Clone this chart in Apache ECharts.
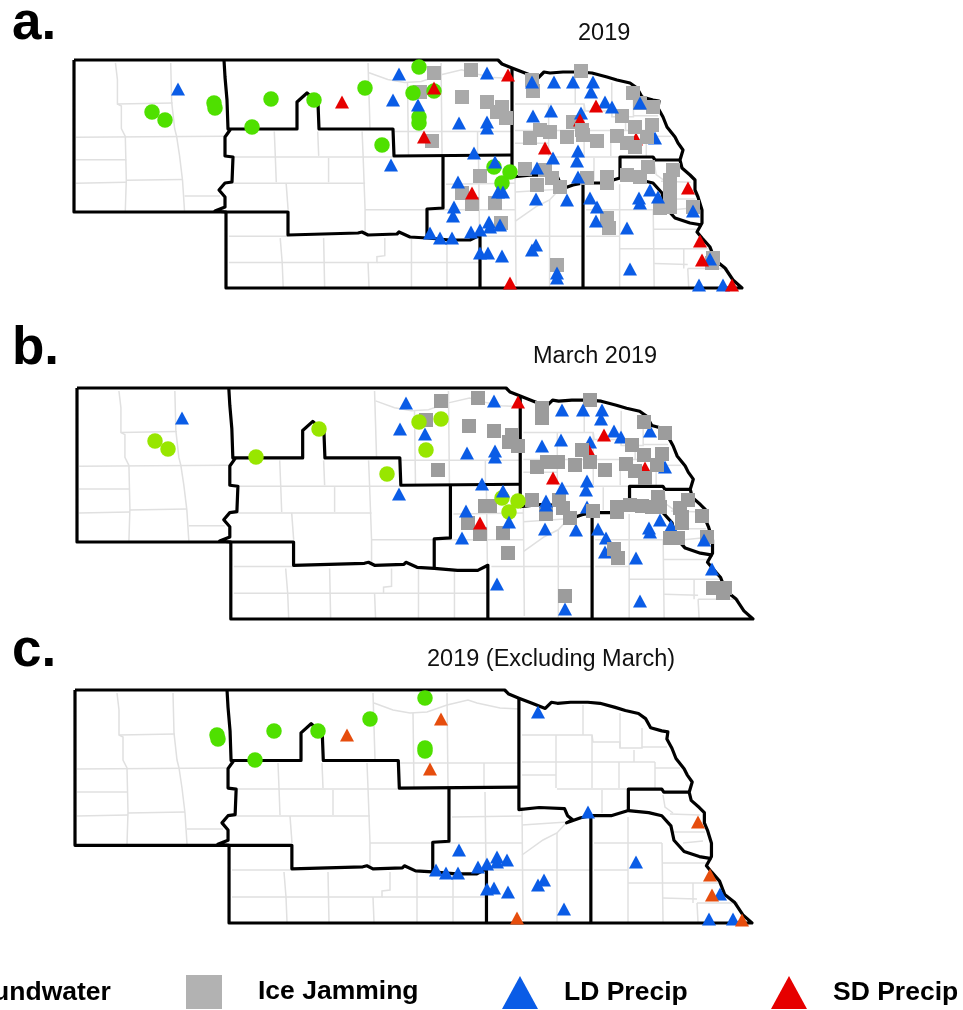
<!DOCTYPE html>
<html>
<head>
<meta charset="utf-8">
<title>Nebraska flood sources 2019</title>
<script src="https://cdn.jsdelivr.net/npm/echarts@6/dist/echarts.min.js"></script>
<style>
html,body{margin:0;padding:0;background:#fff;}
#main{width:963px;height:1010px;}
</style>
</head>
<body>
<div id="main"></div>
<script>
// zone boundaries
var zoneLines = [
	[[74,60],[498,60],[502,64],[512,68],[525,73],[538,78],[544,72],[550,73],[563,72],[580,72],[592,73],[607,77],[617,80],[630,83],[637,88],[642,97],[653,100],[659,101],[658,108],[663,117],[667,127],[675,137],[678,143],[683,150],[680,160],[682,168],[690,175],[695,180],[695,190],[698,197],[702,210],[702,223],[697,232],[702,238],[710,247],[715,260],[725,268],[733,280],[742,288],[226,288],[226,212],[74,212],[74,60]],
	[[224,60],[225,77],[227,100],[228,129],[297,129],[297,102],[307,93],[318,103],[319,129],[393,129],[394,156],[512,155]],
	[[228,129],[230,130],[225,137],[225,156],[233,157],[232,182],[225,183],[219,190],[225,197],[225,207],[215,211],[226,212]],
	[[226,212],[288,212],[288,235],[358,233],[362,232],[368,235],[397,234],[399,232],[410,237],[427,238],[450,240],[470,240],[480,235],[480,288]],
	[[443,155],[443,208],[427,209],[427,238]],
	[[512,68],[512,177],[532,175],[557,176],[560,183],[565,187],[559,190],[573,185],[583,183],[603,183],[620,178],[640,180],[653,183],[662,193],[665,207],[675,218],[690,223],[702,225]],
	[[583,183],[583,288]],
	[[620,178],[620,157],[653,157],[655,160],[680,160]]
];
// county lines
var countyLines = [
	[[117,693],[119,710],[119,735],[123,737],[123,760],[127,768],[128,812],[127,844]],
	[[119,735],[175,734]],
	[[173,693],[174,733],[177,760],[179,768],[182,788],[185,813],[187,844]],
	[[77,769],[227,768]],
	[[77,792],[128,792]],
	[[77,816],[128,815]],
	[[128,813],[185,812]],
	[[187,829],[223,829]],
	[[230,789],[398,789]],
	[[278,763],[279,788],[280,815]],
	[[322,763],[323,788]],
	[[367,763],[368,788],[370,843],[370,867]],
	[[333,790],[333,815]],
	[[230,816],[370,816]],
	[[290,816],[292,843]],
	[[370,843],[452,843]],
	[[373,693],[375,760]],
	[[374,703],[393,710],[410,713],[427,712],[447,705],[468,700],[477,703],[500,708],[520,709]],
	[[232,870],[292,870]],
	[[284,872],[286,897],[287,922]],
	[[232,897],[382,897],[382,891],[390,890],[390,872]],
	[[328,872],[329,922]],
	[[373,897],[374,922]],
	[[382,897],[487,897]],
	[[400,763],[520,763]],
	[[413,713],[414,787]],
	[[447,693],[448,787]],
	[[484,763],[484,787]],
	[[485,792],[486,870]],
	[[452,817],[522,816]],
	[[452,843],[522,843]],
	[[522,807],[523,920]],
	[[522,825],[567,822]],
	[[522,855],[543,840],[557,833],[567,822]],
	[[557,833],[557,922]],
	[[490,870],[592,870]],
	[[453,873],[453,922]],
	[[417,873],[417,922]],
	[[583,705],[583,735]],
	[[522,735],[592,735],[593,742],[620,742],[620,748],[642,748],[642,728]],
	[[620,713],[620,748]],
	[[642,747],[667,747]],
	[[634,750],[634,762]],
	[[522,762],[655,762]],
	[[655,768],[680,768]],
	[[655,762],[655,788]],
	[[556,735],[556,788]],
	[[522,775],[556,775]],
	[[592,735],[592,788]],
	[[619,762],[619,788]],
	[[557,789],[627,789]],
	[[602,790],[602,813]],
	[[663,795],[665,807],[673,813]],
	[[670,814],[700,815]],
	[[672,832],[705,832]],
	[[683,843],[703,841]],
	[[628,817],[628,922]],
	[[594,843],[662,843]],
	[[662,843],[663,922]],
	[[662,863],[707,863]],
	[[594,870],[628,870]],
	[[628,883],[720,883]],
	[[693,883],[693,903]],
	[[663,898],[697,899]],
	[[697,903],[738,903]],
	[[697,903],[698,922]]
];

// panel a
var groundA = [[152,112],[165,120],[214,103],[215,108],[271,99],[314,100],[252,127],[365,88],[382,145],[419,67],[413,93],[434,91],[419,117],[419,123],[494,167],[510,172],[502,183]];
var iceA = [[434,73],[471,70],[420,92],[462,97],[487,102],[502,107],[497,112],[506,118],[432,141],[533,91],[532,80],[581,71],[633,93],[640,103],[653,107],[622,116],[573,122],[540,130],[550,132],[530,138],[567,137],[525,169],[480,176],[462,193],[472,204],[495,203],[501,223],[537,185],[545,170],[552,178],[560,187],[587,178],[607,177],[607,183],[627,175],[648,167],[640,177],[673,170],[670,180],[670,193],[660,208],[670,207],[693,207],[607,218],[609,228],[557,265],[713,258],[712,263]];
var iceTopA = [[652,125],[635,127],[582,130],[583,135],[597,141],[617,136],[627,143],[635,147],[647,137]];
var ldA = [[178,89],[399,74],[393,100],[391,165],[532,82],[554,82],[573,82],[593,82],[591,92],[418,105],[487,73],[459,123],[487,122],[487,128],[533,116],[551,111],[581,113],[605,102],[612,107],[640,103],[655,138],[553,158],[578,151],[577,161],[474,153],[495,162],[537,168],[578,177],[458,182],[498,192],[503,192],[536,199],[567,200],[590,198],[597,207],[596,221],[627,228],[639,198],[640,203],[650,190],[658,197],[693,211],[454,207],[453,216],[430,233],[440,238],[452,238],[471,232],[480,230],[489,222],[490,227],[500,225],[480,253],[488,253],[502,256],[532,250],[536,245],[557,273],[557,278],[630,269],[710,259],[699,285],[723,285]];
var sdA = [[342,102],[434,88],[424,137],[508,75],[596,106],[580,120],[636,139],[545,148],[472,193],[688,188],[700,241],[702,260],[510,283],[732,285]];

// panel b
var groundB = [[155,441],[168,449],[256,457],[319,429],[387,474],[419,422],[441,419],[426,450],[502,498],[518,501],[509,512]];
var iceB = [[426,420],[441,401],[478,398],[469,426],[494,431],[438,470],[542,408],[542,418],[590,400],[532,500],[485,506],[490,506],[468,523],[480,534],[503,533],[508,553],[546,514],[559,500],[563,508],[702,516],[707,537],[725,588],[723,593],[713,588]];
var iceTopB = [[512,435],[509,442],[518,446],[644,422],[665,433],[632,445],[662,454],[644,455],[582,450],[590,462],[547,462],[558,462],[537,467],[575,465],[605,470],[626,464],[635,471],[645,478],[657,465],[570,518],[593,511],[617,507],[617,512],[630,505],[642,506],[652,507],[658,497],[660,507],[688,500],[680,508],[682,517],[682,523],[670,538],[678,538],[614,549],[618,558],[565,596]];
var ldB = [[182,418],[406,403],[400,429],[399,494],[562,410],[583,410],[602,410],[601,419],[494,401],[425,434],[467,453],[495,451],[495,457],[542,446],[561,440],[590,442],[614,431],[621,437],[650,431],[665,467],[562,488],[587,481],[586,490],[482,484],[503,491],[546,501],[546,505],[587,507],[466,511],[462,538],[509,522],[545,529],[576,530],[598,529],[606,538],[605,552],[636,558],[649,528],[650,532],[660,520],[671,526],[704,540],[712,569],[497,584],[640,601],[565,609]];
var sdB = [[518,402],[604,435],[553,478],[480,523],[588,449],[645,468]];

// panel c
var groundC = [[217,735],[218,739],[274,731],[318,731],[255,760],[370,719],[425,698],[425,748],[425,751]];
var ldC = [[538,712],[588,812],[459,850],[436,870],[446,873],[458,873],[478,867],[487,864],[497,857],[497,862],[507,860],[487,889],[494,888],[508,892],[538,885],[544,880],[564,909],[636,862],[720,894],[709,919],[733,919]];
var sdC = [[347,735],[441,719],[430,769],[698,822],[710,875],[712,895],[517,918],[742,920]];

var legendNames = ['Groundwater','Ice Jamming','LD Precip','SD Precip'];

var frameA = [74,60,668,228];
var frameB = [77,388,676,231];
var frameC = [75,690,677,233];

// move outlines read in one panel onto another
function fit(lines, from, to) {
	return lines.map(function(line) {
		return {
			coords: line.map(function(p) {
				return [
					to[0] + (p[0] - from[0]) * to[2] / from[2],
					to[1] + (p[1] - from[1]) * to[3] / from[3]
				];
			})
		};
	});
}

var grids = [], xAxes = [], yAxes = [], series = [];

function addPanel(frame, ground, groundColor, ice, iceTop, iceColor, ld, sd, sdColor) {
	var i = grids.length;
	grids.push({left: frame[0], top: frame[1], width: frame[2], height: frame[3]});
	xAxes.push({type: 'value', gridIndex: i, show: false, min: frame[0], max: frame[0] + frame[2]});
	yAxes.push({type: 'value', gridIndex: i, show: false, inverse: true, min: frame[1], max: frame[1] + frame[3]});
	series.push({
		type: 'lines', coordinateSystem: 'cartesian2d', polyline: true, clip: false, silent: true,
		xAxisIndex: i, yAxisIndex: i, z: 1,
		lineStyle: {color: '#e0e0e0', width: 1.5, opacity: 1},
		data: fit(countyLines, frameC, frame)
	});
	series.push({
		type: 'lines', coordinateSystem: 'cartesian2d', polyline: true, clip: false, silent: true,
		xAxisIndex: i, yAxisIndex: i, z: 2,
		lineStyle: {color: '#000', width: 3.2, opacity: 1, join: 'round'},
		data: fit(zoneLines, frameA, frame)
	});
	function marks(name, data, symbol, size, color, z) {
		series.push({
			name: name, type: 'scatter', xAxisIndex: i, yAxisIndex: i, clip: false, silent: true,
			symbol: symbol, symbolSize: size, z: z,
			itemStyle: {color: color, opacity: 1},
			data: data
		});
	}
	marks(legendNames[1], ice, 'rect', [14, 14], iceColor, 3);
	marks(legendNames[0], ground, 'circle', 15.5, groundColor, 4);
	marks(legendNames[2], ld, 'triangle', [14, 13], '#0a5ce6', 5);
	marks(legendNames[3], sd, 'triangle', [14, 13], sdColor, 6);
	marks(legendNames[1], iceTop, 'rect', [14, 14], iceColor, 7);
}

addPanel(frameA, groundA, '#4fe000', iceA, iceTopA, '#a9a9a9', ldA, sdA, '#e60000');
addPanel(frameB, groundB, '#98e600', iceB, iceTopB, '#9c9c9c', ldB, sdB, '#e60000');
addPanel(frameC, groundC, '#4fe000', [], [], '#a9a9a9', ldC, sdC, '#e64d0d');

function panelTitle(text, left, top) {
	return {text: text, left: left, top: top, padding: 0, textStyle: {fontFamily: 'Liberation Sans', fontWeight: 'bold', fontSize: 53, color: '#000'}};
}
function yearTitle(text, left, top) {
	return {text: text, left: left, top: top, padding: 0, textStyle: {fontFamily: 'Liberation Sans', fontWeight: 'normal', fontSize: 23.5, color: '#111'}};
}
function legendItem(index, icon, color, left, width, height, top, gap) {
	return {
		left: left, top: top, padding: 0, orient: 'horizontal', selectedMode: false,
		itemWidth: width, itemHeight: height,
		data: [{name: legendNames[index], icon: icon, itemStyle: {color: color}}],
		textStyle: {fontFamily: 'Liberation Sans', fontWeight: 'bold', fontSize: 26.5, color: '#000', padding: [9, 0, 0, gap]}
	};
}

var option = {
	animation: false,
	backgroundColor: '#fff',
	title: [
		panelTitle('a.', 12, -2),
		panelTitle('b.', 12, 323),
		panelTitle('c.', 12, 625),
		yearTitle('2019', 578, 22),
		yearTitle('March 2019', 533, 345),
		yearTitle('2019 (Excluding March)', 427, 648)
	],
	legend: [
		legendItem(0, 'circle', '#4fe000', -124, 34, 34, 976, 31),
		legendItem(1, 'rect', '#b2b2b2', 186, 36, 34, 975, 31),
		legendItem(2, 'triangle', '#0a5ce6', 502, 36, 33, 976, 21),
		legendItem(3, 'triangle', '#e60000', 771, 36, 33, 976, 21)
	],
	grid: grids,
	xAxis: xAxes,
	yAxis: yAxes,
	series: series
};

var myChart = echarts.init(document.getElementById('main'));
myChart.setOption(option);
</script>
</body>
</html>
